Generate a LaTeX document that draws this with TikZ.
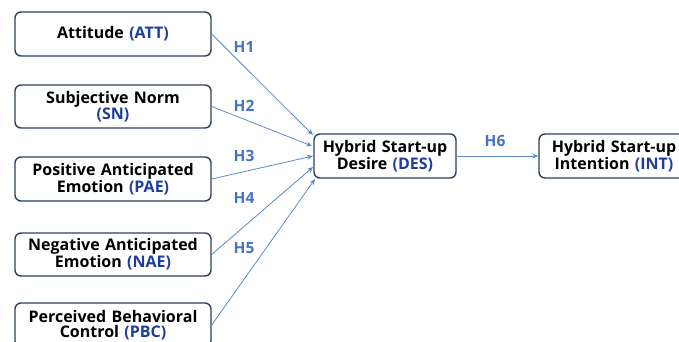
\documentclass[tikz,border=0pt]{standalone}
\usepackage{fontspec}
\setmainfont{Open Sans}
\usetikzlibrary{arrows.meta}
\definecolor{boxline}{HTML}{2E3F5A}
\definecolor{arrowblue}{HTML}{5B8ACD}
\definecolor{hblue}{HTML}{4472C4}
\definecolor{abbr}{HTML}{1F3E9C}
\tikzset{
  cbox/.style={draw=boxline, line width=1.4pt, rounded corners=6pt, fill=white,
    minimum height=44pt, inner sep=0pt, align=center,
    font=\fontsize{16}{14.5}\selectfont\bfseries},
  leftbox/.style={cbox, minimum width=196pt, text width=196pt},
  rightbox/.style={cbox, minimum width=142pt, text width=142pt},
  conn/.style={draw=arrowblue, line width=0.8pt, -{Stealth[length=6pt,width=5pt]}},
  hlab/.style={text=hblue, font=\fontsize{15.5}{15}\selectfont\bfseries}
}
\newcommand{\ab}[1]{\textcolor{abbr}{#1}}
\begin{document}
\begin{tikzpicture}[x=1pt,y=-1pt]
\useasboundingbox (0,0) rectangle (679,341);
\node[leftbox] (att) at (113,34) {Attitude \ab{(ATT)}};
\node[leftbox, minimum height=43pt] (sn) at (113,106.5) {Subjective Norm\\\ab{(SN)}};
\node[leftbox] (pae) at (113,179) {Positive Anticipated\\Emotion \ab{(PAE)}};
\node[leftbox, minimum height=43pt] (nae) at (113,254.5) {Negative Anticipated\\Emotion \ab{(NAE)}};
\node[leftbox] (pbc) at (113,325) {Perceived Behavioral\\Control \ab{(PBC)}};
\node[rightbox] (des) at (385,156) {Hybrid Start-up\\Desire \ab{(DES)}};
\node[rightbox, minimum width=150pt, text width=150pt] (int) at (614,156) {Hybrid Start-up\\Intention \ab{(INT)}};
\coordinate (e1) at (313,135);
\coordinate (e2) at (312,146);
\coordinate (e3) at (313,156);
\coordinate (e4) at (313,167);
\coordinate (e5) at (315,179);
\draw[conn] (att.east) -- (e1);
\draw[conn] (sn.east) -- (e2);
\draw[conn] (pae.east) -- (e3);
\draw[conn] (nae.east) -- (e4);
\draw[conn] (pbc.east) -- (e5);
\draw[conn] (des.east) -- (int.west);
\node[hlab] (h1) at (244,47) {H1};
\node[hlab] (h2) at (244,106) {H2};
\node[hlab] (h3) at (244,156) {H3};
\node[hlab] (h4) at (244,198) {H4};
\node[hlab] (h5) at (244,248) {H5};
\node[hlab] (h6) at (495,141) {H6};
\end{tikzpicture}
\end{document}
